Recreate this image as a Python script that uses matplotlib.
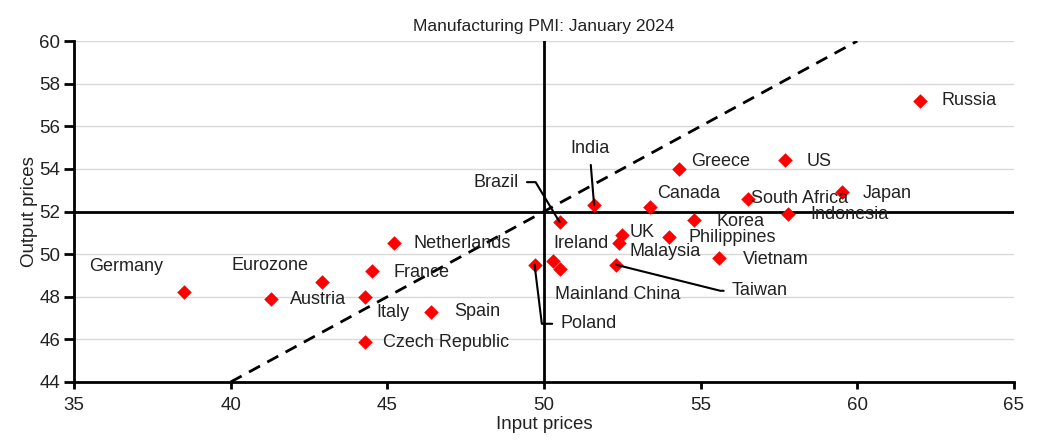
import matplotlib
matplotlib.use("Agg")
import matplotlib.pyplot as plt

plt.rcParams['font.family'] = ['Liberation Sans Narrow', 'Liberation Sans', 'DejaVu Sans']

# Manufacturing PMI, January 2024: input prices vs output prices
countries = ['Germany', 'Eurozone', 'Austria', 'Italy', 'Netherlands', 'France', 'Spain',
             'Czech Republic', 'Poland', 'Ireland', 'Mainland China', 'Brazil', 'India',
             'UK', 'Malaysia', 'Taiwan', 'Canada', 'Greece', 'Philippines', 'Korea',
             'Vietnam', 'South Africa', 'US', 'Indonesia', 'Japan', 'Russia']
input_prices = [38.5, 42.9, 41.3, 44.3, 45.2, 44.5, 46.4,
                44.3, 49.7, 50.3, 50.5, 50.5, 51.6,
                52.5, 52.4, 52.3, 53.4, 54.3, 54.0, 54.8,
                55.6, 56.5, 57.7, 57.8, 59.5, 62.0]
output_prices = [48.2, 48.7, 47.9, 48.0, 50.5, 49.2, 47.3,
                 45.9, 49.5, 49.7, 49.3, 51.5, 52.3,
                 50.9, 50.5, 49.5, 52.2, 54.0, 50.8, 51.6,
                 49.8, 52.6, 54.4, 51.9, 52.9, 57.2]

# label placement (offset in pixels from the point, horizontal alignment)
label_pos = {
    'Germany': (-95, 26, 'left'), 'Eurozone': (-90, 16, 'left'), 'Austria': (19, -1, 'left'),
    'Italy': (11, -16, 'left'), 'Netherlands': (20, 0, 'left'), 'France': (22, -1, 'left'),
    'Spain': (23, 0, 'left'), 'Czech Republic': (18, -1, 'left'), 'Poland': (26, -59, 'left'),
    'Ireland': (0, 17, 'left'), 'Mainland China': (-5, -25, 'left'), 'Brazil': (-41, 40, 'right'),
    'India': (-4, 57, 'center'), 'UK': (7, 2, 'left'), 'Malaysia': (10, -8, 'left'),
    'Taiwan': (116, -26, 'left'), 'Canada': (7, 14, 'left'), 'Greece': (12, 7, 'left'),
    'Philippines': (19, 0, 'left'), 'Korea': (22, -1, 'left'), 'Vietnam': (23, -1, 'left'),
    'South Africa': (3, 0, 'left'), 'US': (21, -1, 'left'), 'Indonesia': (22, -1, 'left'),
    'Japan': (21, -1, 'left'), 'Russia': (22, 0, 'left'),
}
# leader lines: (relpos on text, angle at text, angle at point)
leaders = {
    'Brazil': ((1, 0.5), 0, 121),
    'India': ((0.5, 0), None, None),
    'Taiwan': ((0, 0.5), 180, -14),
    'Poland': ((0, 0.5), 180, -83),
}

fig = plt.figure(figsize=(10.41, 4.41), dpi=100)
ax = fig.add_axes([0.0711, 0.1338, 0.9029, 0.7732])

ax.set_xlim(35, 65)
ax.set_ylim(44, 60)
ax.set_xticks(range(35, 66, 5))
ax.set_yticks(range(44, 61, 2))
ax.grid(axis='y', color='#d9d9d9', linewidth=1)
ax.set_axisbelow(True)
for s in ['top', 'right']:
    ax.spines[s].set_visible(False)
for s in ['left', 'bottom']:
    ax.spines[s].set_linewidth(2)
ax.tick_params(axis='both', labelsize=13.5, width=2, color='black', labelcolor='#222222')
ax.tick_params(axis='y', length=7, pad=3)
ax.tick_params(axis='x', length=5, pad=6)

ax.axvline(50, color='black', linewidth=2)
ax.axhline(52, color='black', linewidth=2)
ax.axline((50, 52), slope=0.8, color='black', linewidth=2, linestyle=(0, (4.5, 3)))

ax.scatter(input_prices, output_prices, marker='D', s=55, color='#ff0000', zorder=5,
           linewidths=0)

for name, x, y in zip(countries, input_prices, output_prices):
    dx, dy, ha = label_pos[name]
    kw = {}
    if name in leaders:
        rel, a, b = leaders[name]
        if a is None:
            cs = 'arc3'
        else:
            cs = 'angle,angleA=%d,angleB=%d,rad=0' % (a, b)
        kw['arrowprops'] = dict(arrowstyle='-', color='black', lw=1.5, relpos=rel,
                                connectionstyle=cs, shrinkA=4, shrinkB=0)
    ax.annotate(name, (x, y), xytext=(dx, dy), textcoords='offset pixels',
                ha=ha, va='center', fontsize=13, color='#222222', zorder=6, **kw)

ax.set_title('Manufacturing PMI: January 2024', fontsize=12.5, pad=7, color='#222222')
ax.set_xlabel('Input prices', fontsize=13.5, labelpad=1, color='#222222')
ax.set_ylabel('Output prices', fontsize=13.5, labelpad=1, color='#222222')

fig.savefig('out.png', dpi=100)
